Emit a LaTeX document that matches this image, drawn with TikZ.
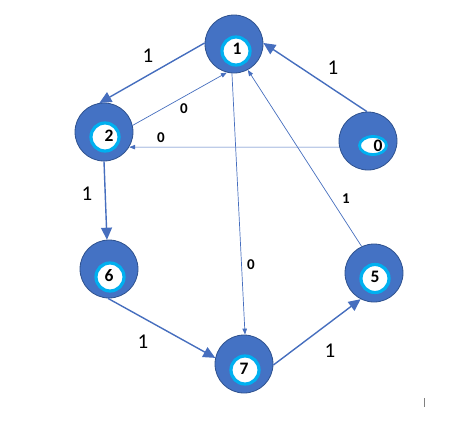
\documentclass[tikz,border=0pt]{standalone}
\usepackage{fontspec}
\setmainfont{Carlito}
\usetikzlibrary{arrows.meta,shapes.geometric}
\definecolor{nodeblue}{RGB}{68,114,196}
\definecolor{nodeborder}{RGB}{47,82,143}
\definecolor{ringcyan}{RGB}{0,176,240}
\definecolor{edgeblue}{RGB}{70,110,190}
\tikzset{
  outer/.style={circle, minimum size=58pt, inner sep=0pt, fill=nodeblue, draw=nodeborder, line width=0.8pt},
  innerring/.style={circle, minimum size=28pt, inner sep=0pt, fill=white, draw=ringcyan, line width=3.2pt},
  innerell/.style={ellipse, minimum width=27pt, minimum height=18pt, inner sep=0pt, fill=white, draw=ringcyan, line width=2.8pt},
  digit/.style={font=\fontsize{17.5}{17.5}\selectfont\bfseries, inner sep=0pt},
  thickedge/.style={draw=edgeblue, line width=1.4pt, -{Triangle[length=12pt,width=11pt]}},
  thinedge/.style={draw=edgeblue, line width=0.7pt, -{Triangle[length=6pt,width=4.5pt]}},
  biglab/.style={font=\fontsize{21}{21}\selectfont, inner sep=0pt},
  smalllab/.style={font=\fontsize{15}{15}\selectfont\bfseries, inner sep=0pt},
}
\begin{document}
\begin{tikzpicture}[x=1pt,y=-1pt]
\useasboundingbox (0,0) rectangle (475,421);
% outer circles
\node[outer] (n1) at (234,44) {};
\node[outer] (n2) at (104,132) {};
\node[outer] (n0) at (368,141) {};
\node[outer] (n6) at (109,269) {};
\node[outer] (n7) at (244,364) {};
\node[outer] (n5) at (374,273) {};
% inner rings
\node[innerring] (n1i) at (236,51) {};
\node[innerring] (n2i) at (105,137) {};
\node[innerell] (n0i) at (373,145.5) {};
\node[innerring] (n6i) at (110,277) {};
\node[innerring] (n7i) at (245,370) {};
\node[innerring] (n5i) at (375,278.5) {};
% digits
\node[digit] (d1) at (237,48.5) {1};
\node[digit] (d2) at (109,135.5) {2};
\node[digit] (d0) at (378,145.5) {0};
\node[digit] (d6) at (109,275.5) {6};
\node[digit] (d7) at (244,368.5) {7};
\node[digit] (d5) at (375,277) {5};
% edges
\draw[thickedge] (n1.178) -- (n2.99);
\draw[thinedge] (n2.13) -- (n1.256);
\draw[thinedge] (n0.192) -- (n2.329);
\draw[thickedge] (n0.92) -- (n1.2);
\draw[thinedge] (n5.115) -- (n1.298);
\draw[thinedge] (n1.266) -- (n7.88);
\draw[thickedge] (n2.270) -- (n6.94);
\draw[thickedge] (n6.268) -- (n7.168);
\draw[thickedge] (n7.358) -- (n5.243);
% labels
\node[biglab] (l12) at (148,56) {1};
\node[smalllab] (l21) at (184,109) {0};
\node[smalllab] (l02) at (161,138) {0};
\node[biglab] (l01) at (333,68) {1};
\node[smalllab] (l51) at (346,199) {1};
\node[smalllab] (l17) at (251,265) {0};
\node[biglab] (l26) at (87,194) {1};
\node[biglab] (l67) at (143,342) {1};
\node[biglab] (l75) at (330,351) {1};
% stray mark
\coordinate (m1) at (424,398);
\coordinate (m2) at (424,407);
\draw[gray, line width=0.8pt] (m1) -- (m2);
\end{tikzpicture}
\end{document}
